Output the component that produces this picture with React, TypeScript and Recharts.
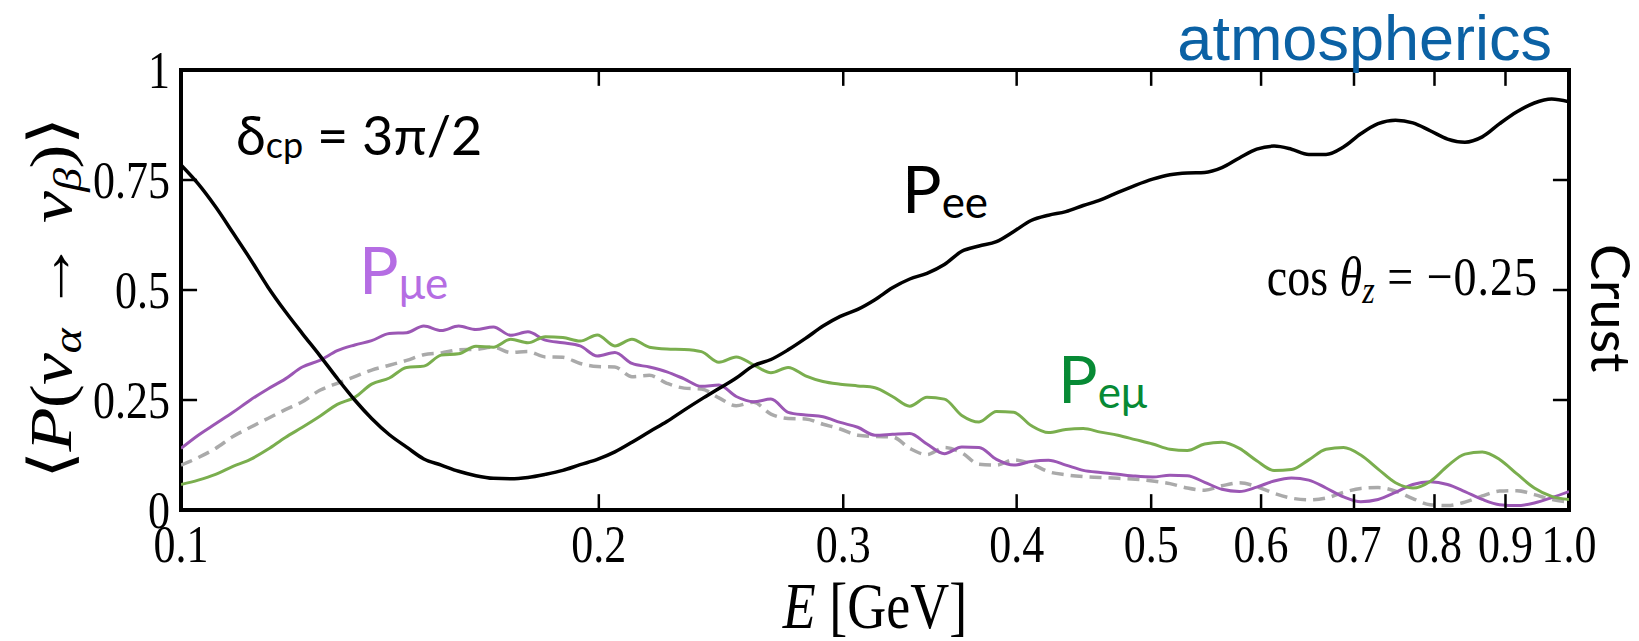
import React from 'react';
import { LineChart, Line, XAxis, YAxis, ReferenceArea, ReferenceLine } from 'recharts';

// energy grid [GeV], log spaced
const ENERGY = [
  0.1, 0.1029, 0.1059, 0.109, 0.1122, 0.1155, 0.1189, 0.1223, 0.1259, 0.1296,
  0.1334, 0.1372, 0.1413, 0.1454, 0.1496, 0.154, 0.1585, 0.1631, 0.1679, 0.1728,
  0.1778, 0.183, 0.1884, 0.1939, 0.1995, 0.2054, 0.2113, 0.2175, 0.2239, 0.2304,
  0.2371, 0.2441, 0.2512, 0.2585, 0.2661, 0.2738, 0.2818, 0.2901, 0.2985, 0.3073,
  0.3162, 0.3255, 0.335, 0.3447, 0.3548, 0.3652, 0.3758, 0.3868, 0.3981, 0.4097,
  0.4217, 0.434, 0.4467, 0.4597, 0.4732, 0.487, 0.5012, 0.5158, 0.5309, 0.5464,
  0.5623, 0.5788, 0.5957, 0.6131, 0.631, 0.6494, 0.6683, 0.6879, 0.7079, 0.7286,
  0.7499, 0.7718, 0.7943, 0.8175, 0.8414, 0.866, 0.8913, 0.9173, 0.9441, 0.9716,
  1.0,
];

const P_EE = [
  0.784, 0.741, 0.689, 0.63, 0.57, 0.507, 0.451, 0.401, 0.351, 0.299,
  0.25, 0.208, 0.171, 0.143, 0.116, 0.102, 0.088, 0.078, 0.072, 0.071,
  0.074, 0.081, 0.09, 0.103, 0.115, 0.132, 0.154, 0.178, 0.201, 0.227,
  0.252, 0.276, 0.3, 0.328, 0.342, 0.364, 0.39, 0.418, 0.44, 0.456,
  0.478, 0.505, 0.525, 0.538, 0.558, 0.588, 0.6, 0.61, 0.633, 0.658,
  0.67, 0.678, 0.692, 0.705, 0.722, 0.738, 0.752, 0.762, 0.766, 0.767,
  0.778, 0.8, 0.82, 0.827, 0.82, 0.808, 0.808, 0.825, 0.855, 0.878,
  0.886, 0.88, 0.862, 0.843, 0.836, 0.848, 0.878, 0.905, 0.925, 0.934,
  0.928,
];

const P_MUE = [
  0.14, 0.17, 0.196, 0.222, 0.25, 0.275, 0.298, 0.325, 0.34, 0.362,
  0.375, 0.385, 0.401, 0.403, 0.418, 0.408, 0.418, 0.41, 0.416, 0.397,
  0.405, 0.386, 0.38, 0.373, 0.35, 0.358, 0.333, 0.325, 0.314, 0.298,
  0.281, 0.284, 0.258, 0.246, 0.252, 0.222, 0.216, 0.212, 0.199, 0.188,
  0.17, 0.172, 0.174, 0.15, 0.128, 0.143, 0.142, 0.115, 0.102, 0.11,
  0.113, 0.102, 0.09, 0.085, 0.081, 0.077, 0.075, 0.079, 0.078, 0.063,
  0.047, 0.042, 0.052, 0.066, 0.073, 0.068, 0.05, 0.03, 0.019, 0.024,
  0.04, 0.058, 0.064, 0.058, 0.042, 0.024, 0.012, 0.01, 0.016, 0.028,
  0.042,
];

const P_EMU = [
  0.058, 0.068, 0.081, 0.099, 0.115, 0.138, 0.165, 0.188, 0.213, 0.24,
  0.256, 0.286, 0.3, 0.324, 0.327, 0.352, 0.355, 0.372, 0.37, 0.388,
  0.38, 0.394, 0.392, 0.384, 0.398, 0.373, 0.388, 0.37, 0.366, 0.365,
  0.36, 0.336, 0.348, 0.33, 0.312, 0.324, 0.305, 0.292, 0.286, 0.282,
  0.278, 0.258, 0.236, 0.256, 0.252, 0.215, 0.2, 0.224, 0.222, 0.192,
  0.176, 0.183, 0.185, 0.177, 0.17, 0.16, 0.15, 0.138, 0.135, 0.15,
  0.154, 0.14, 0.112, 0.09, 0.092, 0.114, 0.138, 0.142, 0.125, 0.093,
  0.062, 0.05, 0.065, 0.1, 0.127, 0.132, 0.115, 0.082, 0.05, 0.031,
  0.024,
];

// grey dashed reference curve
const P_REF = [
  0.102, 0.119, 0.14, 0.167, 0.188, 0.208, 0.228, 0.246, 0.272, 0.288,
  0.303, 0.318, 0.329, 0.34, 0.353, 0.357, 0.364, 0.365, 0.37, 0.358,
  0.36, 0.348, 0.347, 0.333, 0.326, 0.325, 0.303, 0.306, 0.288, 0.277,
  0.275, 0.255, 0.237, 0.245, 0.218, 0.208, 0.207, 0.195, 0.184, 0.17,
  0.167, 0.166, 0.14, 0.126, 0.142, 0.13, 0.104, 0.102, 0.114, 0.105,
  0.087, 0.08, 0.076, 0.074, 0.072, 0.07, 0.066, 0.06, 0.05, 0.045,
  0.055, 0.062, 0.053, 0.038, 0.027, 0.023, 0.027, 0.04, 0.049, 0.051,
  0.043, 0.026, 0.012, 0.01, 0.018, 0.032, 0.043, 0.044, 0.035, 0.024,
  0.018,
];

const X_TICKS = [0.1, 0.2, 0.3, 0.4, 0.5, 0.6, 0.7, 0.8, 0.9, 1.0];
const X_TICK_LABELS = ['0.1', '0.2', '0.3', '0.4', '0.5', '0.6', '0.7', '0.8', '0.9', '1.0'];
const Y_TICKS = [0, 0.25, 0.5, 0.75, 1];
const Y_TICK_LABELS = ['0', '0.25', '0.5', '0.75', '1'];

const data = ENERGY.map((E, i) => ({
  E,
  ee: P_EE[i],
  mue: P_MUE[i],
  emu: P_EMU[i],
  ref: P_REF[i],
}));

const SERIF = '"Liberation Serif", "DejaVu Serif", serif';
const SANS = 'Lato, "Open Sans", sans-serif';
// inward tick length (~16px) expressed in axis units
const TICK_DY = 0.036;
const TICK_DX = 1.027;

const innerX = X_TICKS.filter((v) => v > 0.1 && v < 1);
const innerY = Y_TICKS.filter((v) => v > 0 && v < 1);

// all inward tick marks in one list (bottom, top, left, right)
const tickSegments = [
  ...innerX.map((v) => ({ id: `b${v}`, seg: [{ x: v, y: 0 }, { x: v, y: TICK_DY }] })),
  ...innerX.map((v) => ({ id: `t${v}`, seg: [{ x: v, y: 1 }, { x: v, y: 1 - TICK_DY }] })),
  ...innerY.map((v) => ({ id: `l${v}`, seg: [{ x: 0.1, y: v }, { x: 0.1 * TICK_DX, y: v }] })),
  ...innerY.map((v) => ({ id: `r${v}`, seg: [{ x: 1 / TICK_DX, y: v }, { x: 1, y: v }] })),
];

const BottomTick = (props: any) => {
  const { x, y, payload } = props;
  const i = X_TICKS.indexOf(payload.value);
  return (
    <text transform={`translate(${x},${y}) scale(1,1.2)`} y={43} textAnchor="middle"
      fontFamily={SERIF} fontSize={44} fill="#000">
      {X_TICK_LABELS[i]}
    </text>
  );
};

const LeftTick = (props: any) => {
  const { x, y, payload } = props;
  const i = Y_TICKS.indexOf(payload.value);
  return (
    <text transform={`translate(${x - 11},${y}) scale(1,1.2)`} y={15} textAnchor="end"
      fontFamily={SERIF} fontSize={44} fill="#000">
      {Y_TICK_LABELS[i]}
    </text>
  );
};

export default function App() {
  return (
    <div style={{ position: 'absolute', left: 0, top: 0, width: 1639, height: 641, background: '#fff' }}>
      <LineChart width={1639} height={641} data={data} margin={{ top: 70, right: 70, bottom: 0, left: 0 }}>
        <XAxis dataKey="E" type="number" scale="log" domain={[0.1, 1]} ticks={X_TICKS}
          allowDataOverflow height={131} tickSize={0} tickMargin={0} tickLine={false}
          axisLine={false} tick={BottomTick} interval={0} />
        <YAxis type="number" domain={[0, 1]} ticks={Y_TICKS} allowDataOverflow width={181}
          tickSize={0} tickMargin={0} tickLine={false} axisLine={false} tick={LeftTick} interval={0} />

        <Line dataKey="ref" type="monotone" stroke="#aaaaaa" strokeWidth={3.5} strokeDasharray="12 7"
          dot={false} activeDot={false} isAnimationActive={false} />
        <Line dataKey="mue" type="monotone" stroke="#9b57b4" strokeWidth={3}
          dot={false} activeDot={false} isAnimationActive={false} />
        <Line dataKey="emu" type="monotone" stroke="#7aae4e" strokeWidth={3}
          dot={false} activeDot={false} isAnimationActive={false} />
        <Line dataKey="ee" type="monotone" stroke="#000" strokeWidth={3.5}
          dot={false} activeDot={false} isAnimationActive={false} />

        {tickSegments.map((t) => (
          <ReferenceLine key={t.id} segment={t.seg} stroke="#000" strokeWidth={2.5} ifOverflow="visible" />
        ))}

        {/* heavy frame round the plot */}
        <ReferenceArea x1={0.1} x2={1} y1={0} y2={1} fill="none" fillOpacity={0} stroke="#000"
          strokeWidth={4} ifOverflow="visible" />
      </LineChart>

      <svg width={1639} height={641} style={{ position: 'absolute', left: 0, top: 0, pointerEvents: 'none' }}>
        {/* axis titles */}
        <text transform="translate(71,298) scale(1,1.2) rotate(-90)" textAnchor="middle"
          fontFamily={SERIF} fontSize={60} textLength={302} lengthAdjust="spacing">
          <tspan fontFamily='"DejaVu Sans", sans-serif' fontWeight={200}>⟨</tspan>
          <tspan fontStyle="italic">P</tspan>(<tspan fontStyle="italic">ν</tspan>
          <tspan fontStyle="italic" fontSize={40} dy={10}>α</tspan>
          <tspan dy={-10}> → </tspan><tspan fontStyle="italic">ν</tspan>
          <tspan fontStyle="italic" fontSize={40} dy={10}>β</tspan>
          <tspan dy={-10}>)</tspan>
          <tspan fontFamily='"DejaVu Sans", sans-serif' fontWeight={200}>⟩</tspan>
        </text>
        <text transform="translate(875,628) scale(1,1.2)" textAnchor="middle" fontFamily={SERIF} fontSize={54}>
          <tspan fontStyle="italic">E</tspan> [GeV]
        </text>

        {/* annotations */}
        <text x={1552} y={60} textAnchor="end" fontFamily='"Liberation Sans", Arial, sans-serif'
          fontSize={63} fill="#0b61a4">atmospherics</text>
        <text x={236} y={155} fontFamily={SANS} fontSize={54} fill="#000">
          δ<tspan fontSize={36} dy={3}>cp</tspan><tspan dy={-3}> = 3π/2</tspan>
        </text>
        <text x={902} y={213} fontFamily={SANS} fontSize={66} fill="#000">
          P<tspan fontSize={44} dy={5}>ee</tspan>
        </text>
        <text x={359} y={294} fontFamily={SANS} fontSize={66} fill="#b56de3">
          P<tspan fontSize={44} dy={5}>μe</tspan>
        </text>
        <text x={1058} y={403} fontFamily={SANS} fontSize={66} fill="#078a35">
          P<tspan fontSize={44} dy={5}>eμ</tspan>
        </text>
        <text transform="translate(1538,295) scale(1,1.2)" textAnchor="end" fontFamily={SERIF} fontSize={46}>
          cos <tspan fontStyle="italic">θ</tspan><tspan fontStyle="italic" fontSize={32} dy={7}>z</tspan>
          <tspan dy={-7} letterSpacing={1}> = −0.25</tspan>
        </text>
        <text transform="translate(1591,244) rotate(90)" fontFamily={SANS} fontSize={54} fill="#000">
          Crust
        </text>
      </svg>
    </div>
  );
}
